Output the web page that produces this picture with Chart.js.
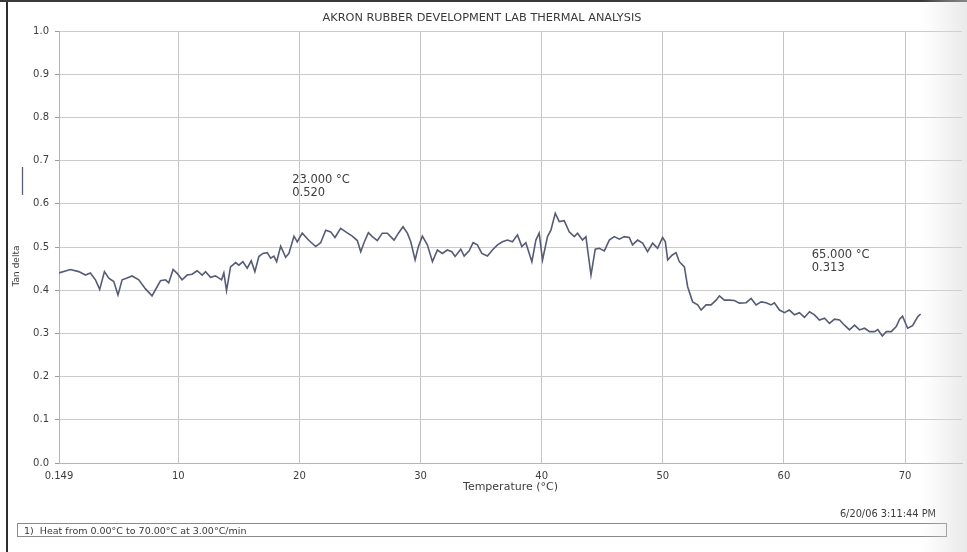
<!DOCTYPE html>
<html>
<head>
<meta charset="utf-8">
<title>Akron Rubber Development Lab Thermal Analysis</title>
<script src="https://cdn.jsdelivr.net/npm/chart.js@4/dist/chart.umd.min.js"></script>
<style>
  html, body { margin: 0; padding: 0; background: #fff; }
  body { width: 967px; height: 552px; position: relative; overflow: hidden; font-family: "DejaVu Sans", sans-serif; color: #3d3d3d; }
  #chart { position: absolute; left: 0; top: 0; }
  .edge-left { position: absolute; left: 6px; top: 0; width: 2px; height: 552px; background: #2e2e2e; }
  .edge-top  { position: absolute; left: 0; top: 0; width: 967px; height: 2px; background: #3a3a3a; }
  .shade { position: absolute; right: 0; top: 0; width: 45px; height: 552px; pointer-events: none;
           background: linear-gradient(to right, rgba(225,225,225,0) 0%, rgba(220,220,220,0.3) 50%, rgba(212,212,212,0.5) 100%); }
  .title { position: absolute; left: 0; width: 964px; top: 11px; text-align: center; font-size: 11.3px; color: #3a3a3a; }
  .stamp { position: absolute; right: 31px; top: 508px; font-size: 9.8px; color: #3a3a3a; }
  .step  { position: absolute; left: 17px; top: 523px; width: 930px; height: 14px; border: 1px solid #8a8a8a;
           font-size: 9.5px; line-height: 13px; padding-left: 6px; box-sizing: border-box; color: #3a3a3a; }
</style>
</head>
<body>
<canvas id="chart" width="967" height="552"></canvas>
<div class="edge-left"></div>
<div class="edge-top"></div>
<div class="title">AKRON RUBBER DEVELOPMENT LAB THERMAL ANALYSIS</div>
<div class="stamp">6/20/06 3:11:44 PM</div>
<div class="step">1)&nbsp; Heat from 0.00°C to 70.00°C at 3.00°C/min</div>
<div class="shade"></div>
<script>
// ── Data ────────────────────────────────────────────────
const temps = [
  0.15, 1.09, 1.78, 2.33, 2.74, 3.16, 3.51, 3.90, 4.26, 4.67, 5.02, 5.36, 5.77, 6.18, 6.74, 7.29,
  7.83, 8.25, 8.53, 8.94, 9.21, 9.57, 9.90, 10.31, 10.73, 11.14, 11.55, 11.97, 12.25, 12.66, 13.07, 13.57,
  13.76, 13.98, 14.31, 14.73, 15.00, 15.33, 15.69, 16.02, 16.32, 16.65, 16.98, 17.34, 17.62, 17.89, 18.12, 18.45,
  18.86, 19.13, 19.55, 19.82, 20.23, 20.79, 21.34, 21.75, 22.17, 22.58, 22.93, 23.40, 23.82, 24.36, 24.78, 25.06,
  25.33, 25.69, 26.02, 26.43, 26.84, 27.26, 27.81, 28.17, 28.55, 28.91, 29.19, 29.55, 29.82, 30.15, 30.56, 30.98,
  31.39, 31.80, 32.21, 32.58, 32.85, 33.32, 33.60, 34.01, 34.34, 34.69, 35.06, 35.52, 35.93, 36.35, 36.76, 37.17,
  37.59, 38.00, 38.36, 38.69, 39.19, 39.52, 39.79, 40.07, 40.48, 40.76, 41.12, 41.45, 41.86, 42.27, 42.69, 42.96,
  43.37, 43.65, 44.07, 44.42, 44.75, 45.17, 45.58, 45.99, 46.41, 46.82, 47.23, 47.50, 47.92, 48.33, 48.74, 49.16,
  49.57, 49.98, 50.21, 50.40, 50.76, 51.09, 51.36, 51.78, 52.05, 52.46, 52.88, 53.16, 53.57, 53.98, 54.40, 54.67,
  55.08, 55.50, 55.91, 56.32, 56.88, 57.29, 57.70, 58.12, 58.53, 58.94, 59.21, 59.63, 60.04, 60.45, 60.87, 61.28,
  61.69, 62.11, 62.52, 62.93, 63.35, 63.76, 64.17, 64.59, 65.00, 65.41, 65.83, 66.24, 66.65, 67.07, 67.48, 67.75,
  68.12, 68.45, 68.86, 69.27, 69.55, 69.79, 70.21, 70.62, 71.03, 71.28
];
const tanDelta = [
  0.440, 0.448, 0.443, 0.435, 0.440, 0.424, 0.402, 0.443, 0.428, 0.420, 0.389, 0.424, 0.428, 0.433, 0.424, 0.403,
  0.387, 0.408, 0.422, 0.424, 0.417, 0.448, 0.439, 0.424, 0.435, 0.437, 0.445, 0.435, 0.443, 0.430, 0.433, 0.424,
  0.440, 0.399, 0.454, 0.464, 0.458, 0.466, 0.451, 0.468, 0.443, 0.478, 0.485, 0.487, 0.474, 0.479, 0.466, 0.502,
  0.476, 0.485, 0.525, 0.512, 0.532, 0.515, 0.501, 0.510, 0.539, 0.535, 0.522, 0.543, 0.535, 0.525, 0.515, 0.489,
  0.510, 0.533, 0.524, 0.515, 0.532, 0.532, 0.516, 0.532, 0.547, 0.532, 0.512, 0.470, 0.501, 0.525, 0.505, 0.466,
  0.493, 0.485, 0.493, 0.489, 0.478, 0.495, 0.479, 0.491, 0.510, 0.505, 0.485, 0.479, 0.493, 0.505, 0.512, 0.516,
  0.512, 0.528, 0.501, 0.510, 0.466, 0.516, 0.532, 0.470, 0.524, 0.539, 0.578, 0.559, 0.561, 0.535, 0.524, 0.532,
  0.516, 0.524, 0.435, 0.495, 0.497, 0.491, 0.516, 0.524, 0.518, 0.524, 0.522, 0.505, 0.516, 0.509, 0.489, 0.509,
  0.497, 0.522, 0.512, 0.470, 0.481, 0.487, 0.466, 0.454, 0.408, 0.373, 0.366, 0.354, 0.366, 0.366, 0.377, 0.387,
  0.377, 0.377, 0.376, 0.370, 0.371, 0.381, 0.366, 0.373, 0.371, 0.366, 0.371, 0.354, 0.348, 0.354, 0.343, 0.348,
  0.337, 0.350, 0.343, 0.331, 0.335, 0.323, 0.333, 0.331, 0.319, 0.308, 0.319, 0.308, 0.312, 0.304, 0.304, 0.309,
  0.294, 0.304, 0.304, 0.316, 0.333, 0.340, 0.312, 0.318, 0.338, 0.345
];
const xTicks = [0.149, 10, 20, 30, 40, 50, 60, 70];
const yTicks = [0, 0.1, 0.2, 0.3, 0.4, 0.5, 0.6, 0.7, 0.8, 0.9, 1.0];

// point labels printed on the plot (°C / tan delta)
const markTemps  = [23, 65];
const markValues = [0.520, 0.313];

// ── Layout / style ─────────────────────────────────────
const markAnchors = [{ x: 19.4, y: 0.655 }, { x: 62.3, y: 0.481 }];
const TEXT = '#3d3d3d';
const FONT = '"DejaVu Sans", sans-serif';

// extra drawing: peak labels and y-axis legend stub
const notesPlugin = {
  id: 'notes',
  afterDatasetsDraw(chart) {
    const { ctx, scales: { x, y } } = chart;
    ctx.save();
    ctx.fillStyle = TEXT;
    ctx.font = '11.5px ' + FONT;
    ctx.textBaseline = 'middle';
    ctx.textAlign = 'left';
    markAnchors.forEach((a, i) => {
      const px = x.getPixelForValue(a.x);
      const py = y.getPixelForValue(a.y);
      ctx.fillText(markTemps[i].toFixed(3) + ' °C', px, py);
      ctx.fillText(markValues[i].toFixed(3), px, py + 13);
    });

    // rotated axis name + line sample
    ctx.translate(17, 266);
    ctx.rotate(-Math.PI / 2);
    ctx.font = '9px ' + FONT;
    ctx.textAlign = 'center';
    ctx.fillText('Tan delta', 0, 0);
    ctx.restore();

    ctx.save();
    ctx.strokeStyle = '#5b6079';
    ctx.lineWidth = 1.3;
    ctx.beginPath();
    ctx.moveTo(22.5, 167);
    ctx.lineTo(22.5, 195);
    ctx.stroke();
    ctx.restore();
  }
};

new Chart(document.getElementById('chart').getContext('2d'), {
  type: 'line',
  data: {
    datasets: [{
      label: 'Tan delta',
      data: temps.map((t, i) => ({ x: t, y: tanDelta[i] })),
      borderColor: '#565b76',
      borderWidth: 1.6,
      pointRadius: 0,
      tension: 0,
      fill: false
    }]
  },
  options: {
    responsive: false,
    animation: false,
    devicePixelRatio: 1,
    layout: { padding: { top: 31, right: 5, bottom: 58, left: 0 } },
    plugins: { legend: { display: false }, tooltip: { enabled: false } },
    scales: {
      x: {
        type: 'linear',
        min: 0.149,
        max: 74.7,
        afterBuildTicks: s => { s.ticks = xTicks.map(v => ({ value: v })); },
        afterFit: s => { s.height = 31; },
        grid: { color: '#c4c4c4', lineWidth: 1, drawTicks: false },
        border: { color: '#b5b5b5' },
        ticks: {
          padding: 7,
          color: TEXT,
          font: { family: FONT, size: 10 },
          maxRotation: 0,
          autoSkip: false,
          callback: v => (v === 0.149 ? '0.149' : String(v))
        },
        title: {
          display: true,
          text: 'Temperature (°C)',
          color: TEXT,
          font: { family: FONT, size: 11 },
          padding: { top: 0, bottom: 0 }
        }
      },
      y: {
        min: 0,
        max: 1,
        afterBuildTicks: s => { s.ticks = yTicks.map(v => ({ value: v })); },
        afterFit: s => { s.width = 59; },
        grid: { color: '#cbcbcb', lineWidth: 1, tickLength: 4, tickColor: '#9a9a9a' },
        border: { color: '#b5b5b5' },
        ticks: {
          padding: 6,
          color: TEXT,
          font: { family: FONT, size: 10 },
          callback: v => v.toFixed(1)
        }
      }
    }
  },
  plugins: [notesPlugin]
});
</script>
</body>
</html>
